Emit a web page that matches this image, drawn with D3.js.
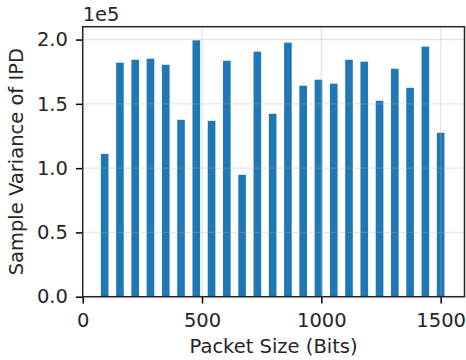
<!DOCTYPE html>
<html><head><meta charset="utf-8">
<script src="https://cdnjs.cloudflare.com/ajax/libs/d3/7.8.5/d3.min.js"></script>
<style>body{margin:0;background:#fff}svg{display:block}text{font-family:"DejaVu Sans",sans-serif;fill:#262626}</style>
</head><body>
<script>
const packetSizes = [92,156,220,284,348,412,476,540,604,668,732,796,860,924,988,1052,1116,1180,1244,1308,1372,1436,1500];
const variances = [1.111,1.820,1.843,1.851,1.804,1.376,1.994,1.368,1.835,0.948,1.906,1.423,1.976,1.641,1.688,1.657,1.843,1.828,1.524,1.773,1.625,1.945,1.275];
const xTicks = [0,500,1000,1500];
const yTicks = [0,0.5,1.0,1.5,2.0];
const yTickLabels = ["0.0","0.5","1.0","1.5","2.0"];
const barWidth = 32;

const W=466,H=360;
const m={l:82.7,r:466-464.5,t:26.7,b:360-296.7};
const svg=d3.select("body").append("svg").attr("width",W).attr("height",H);
const x=d3.scaleLinear().domain([0,1600]).range([m.l,W-m.r]);
const y=d3.scaleLinear().domain([0,2.1]).range([H-m.b,m.t]);
const fs=19.5, ts=6.8, lw=1.5;

svg.append("g").selectAll("rect").data(packetSizes).join("rect")
  .attr("x",(d)=>x(d-barWidth/2)).attr("width",(d)=>x(d+barWidth/2)-x(d-barWidth/2))
  .attr("y",(d,i)=>y(variances[i])).attr("height",(d,i)=>y(0)-y(variances[i]))
  .attr("fill","#1f77b4");

// grid
const g=svg.append("g").attr("stroke","#b0b0b0").attr("stroke-opacity",0.3).attr("stroke-width",1.4);
g.selectAll(".gx").data(xTicks).join("line").attr("x1",d=>x(d)).attr("x2",d=>x(d)).attr("y1",y(2.1)).attr("y2",y(0));
g.selectAll(".gy").data(yTicks).join("line").attr("y1",d=>y(d)).attr("y2",d=>y(d)).attr("x1",x(0)).attr("x2",x(1600));

// axes
const xa=svg.append("g").attr("transform",`translate(0,${y(0)})`)
  .call(d3.axisBottom(x).tickValues(xTicks).tickSize(ts).tickPadding(9.2).tickFormat(d3.format("d")));
const ya=svg.append("g").attr("transform",`translate(${x(0)},0)`)
  .call(d3.axisLeft(y).tickValues(yTicks).tickSize(ts).tickPadding(8).tickFormat((d,i)=>yTickLabels[i]));
[xa,ya].forEach(a=>{a.select(".domain").remove();a.selectAll("line").attr("stroke","#000").attr("stroke-width",lw);
  a.selectAll("text").attr("font-size",fs).attr("font-family","DejaVu Sans").attr("fill","#262626");});

// frame
svg.append("rect").attr("x",x(0)).attr("y",y(2.1)).attr("width",x(1600)-x(0)).attr("height",y(0)-y(2.1))
  .attr("fill","none").attr("stroke","#262626").attr("stroke-width",lw);

svg.append("text").attr("x",x(0)).attr("y",20.7).attr("font-size",fs).text("1e5");
svg.append("text").attr("x",(x(0)+x(1600))/2).attr("y",353.3).attr("text-anchor","middle").attr("font-size",fs).text("Packet Size (Bits)");
svg.append("text").attr("transform",`translate(22.5,${(y(0)+y(2.1))/2}) rotate(-90)`).attr("text-anchor","middle").attr("font-size",fs).text("Sample Variance of IPD");
</script>
</body></html>
